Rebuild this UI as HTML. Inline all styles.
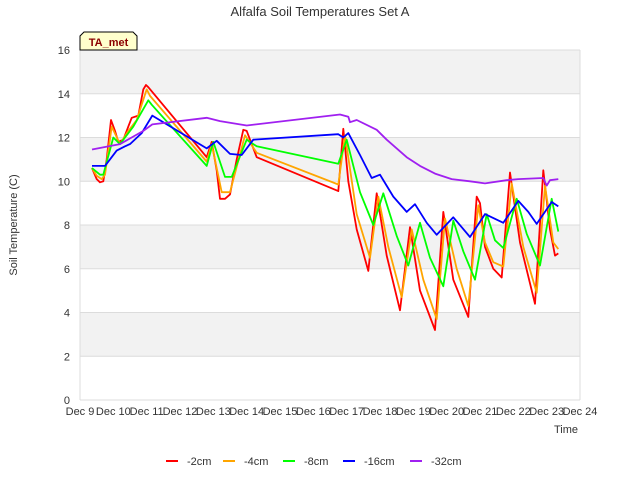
<!DOCTYPE html>
<html><head><meta charset="utf-8"><style>
body{margin:0;background:#fff;}
svg{display:block;font-family:"Liberation Sans","DejaVu Sans",sans-serif;}
</style></head><body>
<svg id="chart" width="640" height="480" viewBox="0 0 640 480">
<text x="320" y="16" text-anchor="middle" font-size="13" fill="#333">Alfalfa Soil Temperatures Set A</text>
<g id="bands"></g><g id="grid"></g><g id="yticks"></g><g id="xticks"></g><g id="series"></g>
<text transform="translate(17,225) rotate(-90)" text-anchor="middle" font-size="11" fill="#333">Soil Temperature (C)</text>
<text x="566" y="433" text-anchor="middle" font-size="11" fill="#333">Time</text>
<g>
<polygon points="80,50 80,36 84,32 133,32 137,36 137,50" fill="#ffffcc" stroke="#000" stroke-width="1"/>
<text x="108.5" y="46" text-anchor="middle" font-size="11" font-weight="bold" fill="#8b0000">TA_met</text>
</g>
<g id="legend"></g>
</svg>
<script>
const yTicks=[0,2,4,6,8,10,12,14,16];
const xTickLabels=["Dec 9","Dec 10","Dec 11","Dec 12","Dec 13","Dec 14","Dec 15","Dec 16","Dec 17","Dec 18","Dec 19","Dec 20","Dec 21","Dec 22","Dec 23","Dec 24"];
const seriesNames=["-2cm","-4cm","-8cm","-16cm","-32cm"];
const seriesColors=["#ff0000","#ffa500","#00ff00","#0000ff","#a020f0"];
const s2cm=[[0.36,10.6],[0.5,10.1],[0.6,9.95],[0.7,10.0],[0.8,11.0],[0.93,12.8],[1.05,12.3],[1.15,11.8],[1.3,11.9],[1.45,12.5],[1.55,12.9],[1.75,13.0],[1.9,14.2],[1.98,14.4],[2.05,14.3],[3.8,11.1],[3.95,11.8],[4.1,10.5],[4.2,9.2],[4.35,9.2],[4.5,9.4],[4.7,11.0],[4.9,12.35],[5.0,12.3],[5.3,11.1],[7.75,9.55],[7.9,12.4],[8.05,10.0],[8.3,7.8],[8.65,5.9],[8.9,9.45],[9.2,6.6],[9.6,4.1],[9.9,7.9],[10.2,5.0],[10.65,3.2],[10.9,8.6],[11.2,5.5],[11.65,3.8],[11.9,9.3],[12.0,9.0],[12.15,7.0],[12.4,6.0],[12.65,5.6],[12.9,10.4],[13.2,7.2],[13.65,4.4],[13.9,10.5],[14.1,7.8],[14.25,6.6],[14.35,6.7]];
const s4cm=[[0.36,10.6],[0.5,10.25],[0.65,10.1],[0.75,10.3],[0.95,12.5],[1.2,11.7],[1.45,12.3],[1.7,12.8],[2.0,14.2],[2.1,13.9],[3.8,10.9],[3.95,11.7],[4.25,9.5],[4.5,9.5],[4.95,12.1],[5.3,11.3],[7.75,9.85],[7.95,12.1],[8.3,8.5],[8.7,6.5],[8.95,9.3],[9.25,7.0],[9.65,4.7],[9.95,7.8],[10.3,5.5],[10.7,3.7],[10.95,8.3],[11.3,6.0],[11.65,4.3],[11.95,8.9],[12.15,7.2],[12.4,6.3],[12.7,6.1],[12.95,9.9],[13.3,7.0],[13.7,4.9],[13.95,9.8],[14.2,7.2],[14.35,6.9]];
const s8cm=[[0.36,10.6],[0.6,10.3],[0.7,10.3],[1.0,12.0],[1.2,11.7],[1.6,12.5],[2.05,13.7],[2.15,13.5],[3.8,10.7],[4.0,11.8],[4.35,10.2],[4.55,10.2],[5.0,11.9],[5.3,11.6],[7.75,10.8],[8.0,11.9],[8.4,9.5],[8.8,8.0],[9.1,9.45],[9.5,7.5],[9.85,6.15],[10.2,8.1],[10.5,6.5],[10.9,5.2],[11.2,8.2],[11.5,6.8],[11.85,5.5],[12.2,8.5],[12.45,7.3],[12.7,6.95],[13.1,9.2],[13.4,7.6],[13.8,6.15],[14.15,9.2],[14.35,7.7]];
const s16cm=[[0.36,10.7],[0.75,10.7],[1.1,11.4],[1.35,11.6],[1.5,11.7],[1.85,12.2],[2.17,13.0],[3.8,11.5],[4.1,11.85],[4.5,11.25],[4.85,11.2],[5.2,11.9],[7.75,12.15],[7.9,12.0],[8.05,12.2],[8.4,11.2],[8.75,10.15],[9.0,10.3],[9.4,9.3],[9.8,8.6],[10.05,8.95],[10.4,8.1],[10.7,7.55],[11.2,8.35],[11.45,7.9],[11.7,7.45],[12.15,8.5],[12.7,8.1],[13.15,9.1],[13.45,8.6],[13.7,8.05],[14.15,9.05],[14.35,8.85]];
const s32cm=[[0.36,11.45],[1.2,11.7],[1.9,12.3],[2.17,12.6],[3.8,12.9],[4.2,12.75],[5.0,12.55],[7.8,13.05],[8.05,12.95],[8.1,12.7],[8.3,12.8],[8.9,12.35],[9.2,11.9],[9.8,11.1],[10.2,10.7],[10.65,10.35],[11.15,10.1],[11.7,10.0],[12.15,9.9],[12.8,10.05],[13.15,10.1],[13.9,10.15],[14.0,9.8],[14.1,10.05],[14.35,10.1]];
const allSeries=[s2cm,s4cm,s8cm,s16cm,s32cm];
const X0=80,X1=580,Y0=400,Y1=50;
function xs(d){return X0+d*(X1-X0)/15;}
function ys(v){return Y0-v*(Y0-Y1)/16;}
const NS="http://www.w3.org/2000/svg";
function mk(tag,attrs,parent){const e=document.createElementNS(NS,tag);for(const k in attrs)e.setAttribute(k,attrs[k]);parent.appendChild(e);return e;}
const bands=document.getElementById('bands');
for(let i=0;i<yTicks.length-1;i++){
  const b=mk('rect',{x:X0,y:ys(yTicks[i+1]),width:X1-X0,height:ys(yTicks[i])-ys(yTicks[i+1]),fill:(i%2===1)?'#f2f2f2':'#ffffff'},bands);
  
  
}
const grid=document.getElementById('grid');
const yt=document.getElementById('yticks');
yTicks.forEach(v=>{
  const l=mk('line',{x1:X0,x2:X1,y1:ys(v),y2:ys(v),stroke:'#dcdcdc','stroke-width':1},grid);
  
  
  const t=mk('text',{x:X0-10,y:ys(v)+4,'text-anchor':'end','font-size':11,fill:'#333'},yt);
  t.textContent=v;
  
  
});
const vl=mk('line',{x1:X0,x2:X0,y1:Y1,y2:Y0,stroke:'#dcdcdc'},grid);


const vr=mk('line',{x1:X1,x2:X1,y1:Y1,y2:Y0,stroke:'#dcdcdc'},grid);


const xt=document.getElementById('xticks');
xTickLabels.forEach((s,i)=>{
  const t=mk('text',{x:xs(i),y:415,'text-anchor':'middle','font-size':11,fill:'#333'},xt);
  t.textContent=s;
  
  
});
const sg=document.getElementById('series');
allSeries.forEach((arr,i)=>{
  const p=mk('polyline',{points:arr.map(q=>xs(q[0]).toFixed(1)+','+ys(q[1]).toFixed(1)).join(' '),fill:'none',stroke:seriesColors[i],'stroke-width':1.8,'stroke-linejoin':'round'},sg);
  
  
});
const lg=document.getElementById('legend');
const lx=[166,223,283,343,410];
seriesNames.forEach((n,i)=>{
  const g=mk('g',{},lg);
  
  
  mk('line',{x1:lx[i],x2:lx[i]+12,y1:461,y2:461,stroke:seriesColors[i],'stroke-width':2},g);
  const t=mk('text',{x:lx[i]+21,y:465,'font-size':11,fill:'#333'},g);
  t.textContent=n;
});
</script>
</body></html>
